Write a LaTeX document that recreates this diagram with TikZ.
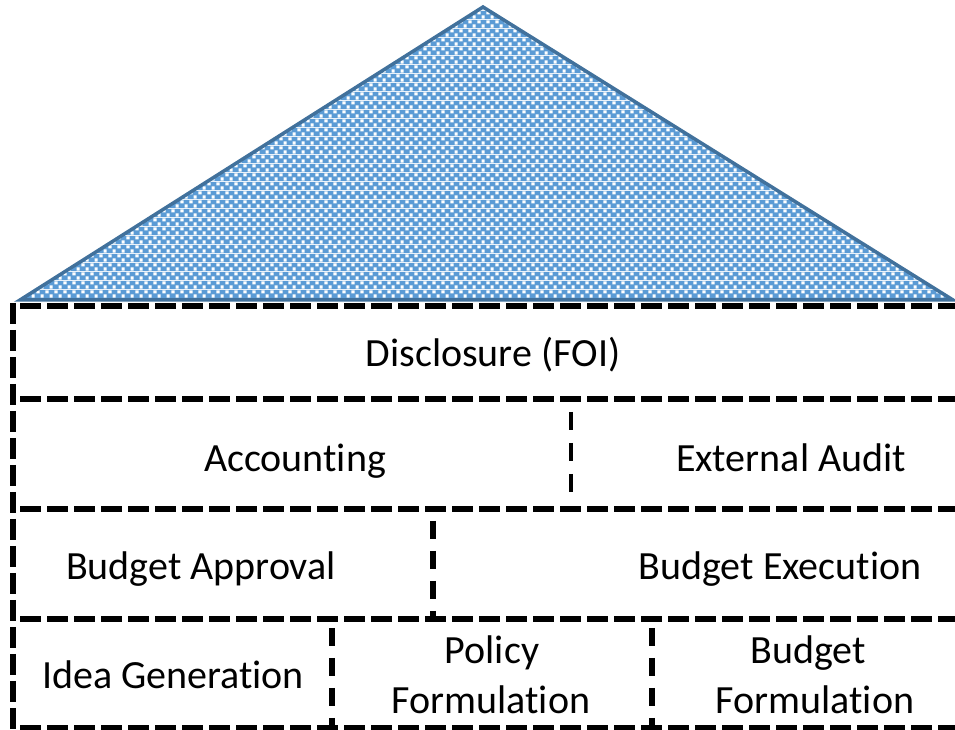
\documentclass[tikz,border=0pt]{standalone}
\usepackage{fontspec}
\setmainfont{Carlito}[Ligatures=NoCommon]
\usetikzlibrary{patterns}
\definecolor{pblue}{RGB}{91,155,213}
\definecolor{tborder}{RGB}{65,113,156}
\pgfdeclarepatterninherentlycolored{bluecheck}{\pgfpointorigin}{\pgfqpoint{9pt}{9pt}}{\pgfqpoint{9pt}{9pt}}{%
  \pgfsetfillcolor{pblue}%
  \pgfpathrectangle{\pgfpointorigin}{\pgfqpoint{9pt}{9pt}}\pgfusepath{fill}%
  \pgfsetfillcolor{white}%
  \pgfpathrectangle{\pgfqpoint{5pt}{0.5pt}}{\pgfqpoint{3.5pt}{3.5pt}}\pgfusepath{fill}%
  \pgfpathrectangle{\pgfqpoint{0.5pt}{5pt}}{\pgfqpoint{3.5pt}{3.5pt}}\pgfusepath{fill}%
}
\tikzset{
  rowline/.style={line width=5.5pt, dash pattern=on 21pt off 6pt},
  divline/.style={line width=5.5pt, dash pattern=on 18pt off 12pt},
  thindiv/.style={line width=4.5pt, dash pattern=on 18pt off 13pt},
  lbl/.style={font=\fontsize{40}{50}\selectfont, inner sep=0pt, anchor=base, align=center},
}
\begin{document}
\begin{tikzpicture}[x=1pt,y=1pt]
\useasboundingbox (0,0) rectangle (955,730);
\clip (0,0) rectangle (955,730);
% roof
\coordinate (tl) at (20,430);
\coordinate (tt) at (483,723);
\coordinate (tr) at (953,430);
\fill[pattern=bluecheck] (tl) -- (tt) -- (tr) -- cycle;
\draw[tborder, line width=3.5pt, line join=miter] (tl) -- (tt) -- (tr) -- cycle;
% grid coordinates
\coordinate (h0l) at (14,424); \coordinate (h0r) at (1000,424);
\coordinate (h1l) at (14,331); \coordinate (h1r) at (1000,331);
\coordinate (h2l) at (14,221); \coordinate (h2r) at (1000,221);
\coordinate (h3l) at (14,111); \coordinate (h3r) at (1000,111);
\coordinate (h4l) at (14,2);   \coordinate (h4r) at (1000,2);
\coordinate (vtop) at (13,427); \coordinate (vbot) at (13,0);
\foreach \i in {0,...,4}{
  \draw[rowline, dash phase=21pt] (h\i l) -- (h\i r);
}
\draw[rowline] (vtop) -- (vbot);
% dividers
\coordinate (d2a) at (571,318); \coordinate (d2b) at (571,237);
\coordinate (d3a) at (433,209); \coordinate (d3b) at (433,112);
\coordinate (d4a) at (332,102); \coordinate (d4b) at (332,0);
\coordinate (d5a) at (652,102); \coordinate (d5b) at (652,0);
\draw[thindiv] (d2a) -- (d2b);
\draw[divline] (d3a) -- (d3b);
\draw[divline] (d4a) -- (d4b);
\draw[divline] (d5a) -- (d5b);
% labels
\node[lbl] (disc) at (493,363) {Disclosure (FOI)};
\node[lbl] (acc) at (295,258) {Accounting};
\node[lbl] (ext) at (791,258) {External Audit};
\node[lbl] (bapp) at (201,150) {Budget Approval};
\node[lbl] (bexe) at (780,150) {Budget Execution};
\node[lbl] (idea) at (173,41) {Idea Generation};
\node[lbl] (pol1) at (492,66) {Policy};
\node[lbl] (pol2) at (491,16) {Formulation};
\node[lbl] (bf1) at (808,66) {Budget};
\node[lbl] (bf2) at (815,16) {Formulation};
\end{tikzpicture}
\end{document}
